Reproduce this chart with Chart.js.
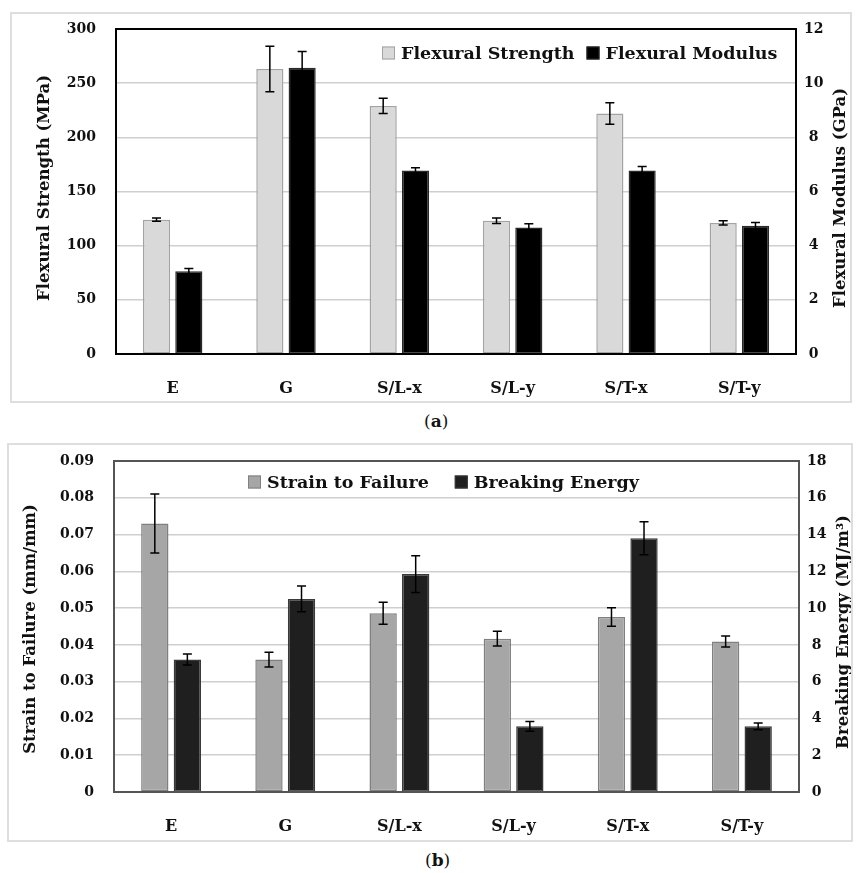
<!DOCTYPE html>
<html>
<head>
<meta charset="utf-8">
<script src="https://cdn.jsdelivr.net/npm/chart.js@4.4.1/dist/chart.umd.min.js"></script>
<style>
  body { margin: 0; background: #fff; width: 857px; height: 873px; position: relative; overflow: hidden; }
  .frame { position: absolute; outline: 2px solid #dedede; outline-offset: -2px; }
  .cap { position: absolute; font-family: "DejaVu Serif", serif; font-size: 17px; color: #111; }
  .cap b { font-weight: bold; }
</style>
</head>
<body>
<div class="frame" style="left:10px; top:12px;"><canvas id="chartA" width="842" height="391"></canvas></div>
<div class="cap" style="left:424px; top:411px;">(<b>a</b>)</div>
<div class="frame" style="left:7px; top:443px;"><canvas id="chartB" width="846" height="399"></canvas></div>
<div class="cap" style="left:425px; top:850px;">(<b>b</b>)</div>
<script>
// categories shared by both panels
const categories = ['E', 'G', 'S/L-x', 'S/L-y', 'S/T-x', 'S/T-y'];

// (a) flexural properties
const strength = [124, 263, 229, 123, 222, 121];
const strengthErr = [1.5, 21, 7, 2.5, 10, 2];
const modulus = [3.06, 10.57, 6.78, 4.67, 6.78, 4.74];
const modulusErr = [0.1, 0.6, 0.1, 0.14, 0.14, 0.12];

// (b) strain / energy
const strain = [0.073, 0.036, 0.0486, 0.0417, 0.0476, 0.0409];
const strainErr = [0.008, 0.002, 0.003, 0.002, 0.0025, 0.0015];
const energy = [7.2, 10.5, 11.85, 3.57, 13.8, 3.57];
const energyErr = [0.3, 0.7, 1.0, 0.27, 0.9, 0.18];

const FONT = '"DejaVu Serif", serif';
const TXT = '#111';

// error bars drawn from each dataset's "errors" array
const errorBars = {
  id: 'errorBars',
  afterDatasetsDraw(chart) {
    const ctx = chart.ctx;
    ctx.save();
    ctx.strokeStyle = '#000';
    ctx.lineWidth = 1.5;
    chart.data.datasets.forEach((ds, i) => {
      const meta = chart.getDatasetMeta(i);
      const scale = chart.scales[ds.yAxisID];
      meta.data.forEach((bar, j) => {
        const v = ds.data[j], e = ds.errors[j];
        const yTop = scale.getPixelForValue(v + e);
        const yBot = scale.getPixelForValue(v - e);
        ctx.beginPath();
        ctx.moveTo(bar.x, yTop); ctx.lineTo(bar.x, yBot);
        ctx.moveTo(bar.x - 4.5, yTop); ctx.lineTo(bar.x + 4.5, yTop);
        ctx.moveTo(bar.x - 4.5, yBot); ctx.lineTo(bar.x + 4.5, yBot);
        ctx.stroke();
      });
    });
    ctx.restore();
  }
};

// frame round the plot area, legend inside it, and both axis titles read bottom-up
const plotFrame = {
  id: 'plotFrame',
  afterDraw(chart, args, opts) {
    const { ctx, chartArea: a } = chart;
    ctx.save();
    ctx.strokeStyle = opts.color;
    ctx.lineWidth = 2;
    ctx.strokeRect(a.left, a.top, a.right - a.left, a.bottom - a.top);

    ctx.font = 'bold ' + opts.fontSize + 'px ' + FONT;
    ctx.textBaseline = 'middle';
    let x = opts.x;
    const y = opts.y;
    chart.data.datasets.forEach(ds => {
      ctx.fillStyle = ds.backgroundColor;
      ctx.fillRect(x, y - 6.5, 13, 13);
      ctx.strokeStyle = ds.borderColor;
      ctx.lineWidth = 1;
      ctx.strokeRect(x + 0.5, y - 6, 12, 12);
      ctx.fillStyle = TXT;
      ctx.fillText(ds.label, x + 19, y + 1);
      x += 19 + ctx.measureText(ds.label).width + opts.gap;
    });

    ctx.font = 'bold 16.5px ' + FONT;
    ctx.textAlign = 'center';
    opts.titles.forEach(t => {
      ctx.save();
      ctx.translate(t.x, t.y);
      ctx.rotate(-Math.PI / 2);
      ctx.fillText(t.text, 0, 0);
      ctx.restore();
    });
    ctx.restore();
  }
};

function makeChart(id, cfg) {
  const tickFont = { family: FONT, size: 14, weight: 'bold' };
  const noPad = s => { s.paddingTop = 0; s.paddingBottom = 0; s.paddingLeft = 0; s.paddingRight = 0; };
  new Chart(document.getElementById(id), {
    type: 'bar',
    data: {
      labels: categories,
      datasets: cfg.datasets.map(d => ({
        label: d.label,
        data: d.data,
        errors: d.errors,
        yAxisID: d.axis,
        backgroundColor: d.bg,
        borderColor: d.border,
        borderWidth: 1.5,
        borderSkipped: false,
        categoryPercentage: 0.57,
        barPercentage: 0.84
      }))
    },
    options: {
      responsive: false,
      animation: false,
      layout: { padding: { top: cfg.top, left: 0, right: 0, bottom: 0 } },
      plugins: {
        legend: { display: false },
        tooltip: { enabled: false },
        plotFrame: cfg.legend
      },
      scales: {
        x: {
          grid: { display: false },
          border: { display: false },
          ticks: { font: { family: FONT, size: 16, weight: 'bold' }, color: TXT, padding: 17 },
          afterFit: s => { s.height = cfg.xHeight; noPad(s); }
        },
        y: {
          position: 'left',
          min: 0, max: cfg.yMax,
          grid: { color: '#cfcfcf', lineWidth: 1.5, drawTicks: false },
          border: { display: false },
          ticks: { stepSize: cfg.yStep, font: tickFont, color: TXT, padding: 20, callback: cfg.yFmt },
          afterFit: s => { s.width = cfg.leftW; noPad(s); }
        },
        y2: {
          position: 'right',
          min: 0, max: cfg.y2Max,
          grid: { display: false, drawTicks: false },
          border: { display: false },
          ticks: { stepSize: cfg.y2Step, font: tickFont, color: TXT, padding: 8, crossAlign: 'center' },
          afterFit: s => { s.width = cfg.rightW; noPad(s); }
        }
      }
    },
    plugins: [errorBars, plotFrame]
  });
}

makeChart('chartA', {
  datasets: [
    { label: 'Flexural Strength', data: strength, errors: strengthErr, axis: 'y', bg: '#d9d9d9', border: '#a3a3a3' },
    { label: 'Flexural Modulus', data: modulus, errors: modulusErr, axis: 'y2', bg: '#000000', border: '#2a2a2a' }
  ],
  top: 17, xHeight: 49, leftW: 106, rightW: 56,
  yMax: 300, yStep: 50, y2Max: 12, y2Step: 2,
  legend: {
    color: '#000', x: 372, y: 41, fontSize: 17.5, gap: 12,
    titles: [
      { text: 'Flexural Strength (MPa)', x: 35, y: 176 },
      { text: 'Flexural Modulus (GPa)', x: 831, y: 186 }
    ]
  }
});

makeChart('chartB', {
  datasets: [
    { label: 'Strain to Failure', data: strain, errors: strainErr, axis: 'y', bg: '#a6a6a6', border: '#808080' },
    { label: 'Breaking Energy', data: energy, errors: energyErr, axis: 'y2', bg: '#1f1f1f', border: '#3a3a3a' }
  ],
  top: 18, xHeight: 50, leftW: 107, rightW: 54,
  yMax: 0.09, yStep: 0.01, y2Max: 18, y2Step: 2,
  yFmt: v => String(+v.toFixed(2)),
  legend: {
    color: '#555', x: 241, y: 39, fontSize: 17.5, gap: 26,
    titles: [
      { text: 'Strain to Failure (mm/mm)', x: 24, y: 186 },
      { text: 'Breaking Energy (MJ/m³)', x: 837, y: 189 }
    ]
  }
});
</script>
</body>
</html>
